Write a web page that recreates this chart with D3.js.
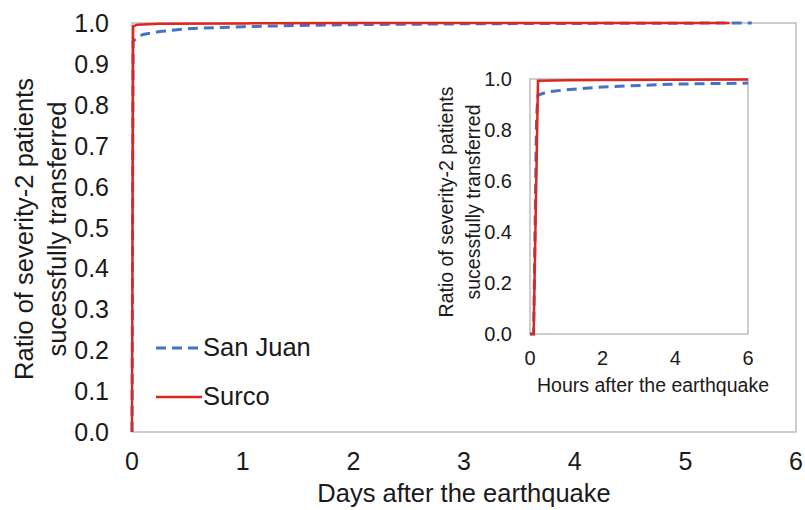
<html>
<head>
  <script src="https://d3js.org/d3.v7.min.js"></script>
  <style>
    body { margin: 0; background: #fff; }
    text { font-family: "Liberation Sans", Arial, sans-serif; fill: #1a1a1a; }
  </style>
</head>
<body>
  <svg id="chart" width="805" height="510"></svg>
  <script>
    // main chart: days after the earthquake
    const sanJuanDays = [[0, 0], [0.01, 0.955], [0.05, 0.965], [0.1, 0.972], [0.25, 0.979], [0.5, 0.986],
      [1, 0.991], [1.5, 0.994], [2, 0.996], [3, 0.998], [4, 0.999], [5.6, 1]];
    const surcoDays = [[0, 0], [0.01, 0.992], [0.05, 0.996], [0.25, 0.998], [1, 0.999], [2, 1], [5.4, 1]];
    const dayTicks = [0, 1, 2, 3, 4, 5, 6];
    const ratioTicks = [0, 0.1, 0.2, 0.3, 0.4, 0.5, 0.6, 0.7, 0.8, 0.9, 1.0];

    // inset: hours after the earthquake
    const sanJuanHours = [[0, 0], [0.1, 0], [0.18, 0.85], [0.22, 0.937], [0.47, 0.949], [1, 0.958],
      [2, 0.969], [4, 0.98], [6, 0.984]];
    const surcoHours = [[0, 0], [0.1, 0], [0.22, 0.993], [1, 0.995], [2, 0.996], [4, 0.997], [6, 0.998]];
    const hourTicks = [0, 2, 4, 6];
    const insetTicks = [0, 0.2, 0.4, 0.6, 0.8, 1.0];

    const blue = '#4472C4', red = '#E3241B', grey = '#BDBDBD';
    const svg = d3.select('svg#chart');

    function label(g, x, y, txt, size, anchor, rot) {
      return g.append('text')
        .attr('transform', `translate(${x},${y})` + (rot ? ` rotate(${rot})` : ''))
        .attr('text-anchor', anchor)
        .style('font-size', size + 'px')
        .text(txt);
    }

    function panel(opts) {
      const g = svg.append('g');
      const x = d3.scaleLinear().domain(opts.xDomain).range([opts.left, opts.right]);
      const y = d3.scaleLinear().domain([0, 1]).range([opts.bottom, opts.top]);

      g.append('rect')
        .attr('x', opts.left).attr('y', opts.top)
        .attr('width', opts.right - opts.left).attr('height', opts.bottom - opts.top)
        .attr('fill', 'none')
        .attr('stroke', grey).attr('stroke-width', 1.5);

      opts.yTicks.forEach(t => {
        label(g, opts.left - opts.yPad, y(t) + opts.tickSize * 0.36, t.toFixed(1), opts.tickSize, 'end');
      });
      opts.xTicks.forEach(t => {
        label(g, x(t), opts.bottom + opts.xPad, t, opts.tickSize, 'middle');
      });

      const line = d3.line().x(d => x(d[0])).y(d => y(d[1]));
      g.append('path').datum(opts.blueData)
        .attr('d', line).attr('fill', 'none')
        .attr('stroke', blue).attr('stroke-width', 3).attr('stroke-dasharray', '10,6');
      g.append('path').datum(opts.redData)
        .attr('d', line).attr('fill', 'none')
        .attr('stroke', red).attr('stroke-width', 2.5);

      label(g, opts.xTitleX, opts.xTitleY, opts.xTitle, opts.titleSize, 'middle');
      label(g, opts.yTitleX[0], opts.yTitleY, 'Ratio of severity-2 patients', opts.titleSize, 'middle', -90);
      label(g, opts.yTitleX[1], opts.yTitleY, 'sucessfully transferred', opts.titleSize, 'middle', -90);
      return { g, x, y };
    }

    panel({
      xDomain: [0, 6], left: 132, right: 796, top: 23, bottom: 432,
      xTicks: dayTicks, yTicks: ratioTicks, tickSize: 25, titleSize: 25.5,
      yPad: 23, xPad: 38, xTitle: 'Days after the earthquake', xTitleX: 464, xTitleY: 502,
      yTitleX: [33, 66], yTitleY: 229,
      blueData: sanJuanDays, redData: surcoDays
    });

    // legend
    const leg = svg.append('g');
    leg.append('line').attr('x1', 156).attr('x2', 202).attr('y1', 348).attr('y2', 348)
      .attr('stroke', blue).attr('stroke-width', 3).attr('stroke-dasharray', '10,6');
    label(leg, 203, 356, 'San Juan', 25.5, 'start');
    leg.append('line').attr('x1', 156).attr('x2', 202).attr('y1', 397).attr('y2', 397)
      .attr('stroke', red).attr('stroke-width', 2.5);
    label(leg, 203, 405, 'Surco', 25.5, 'start');

    panel({
      xDomain: [0, 6], left: 530, right: 748, top: 79, bottom: 334,
      xTicks: hourTicks, yTicks: insetTicks, tickSize: 20, titleSize: 19.5,
      yPad: 18, xPad: 31, xTitle: 'Hours after the earthquake', xTitleX: 653, xTitleY: 392,
      yTitleX: [453, 480], yTitleY: 202,
      blueData: sanJuanHours, redData: surcoHours
    });
  </script>
</body>
</html>
